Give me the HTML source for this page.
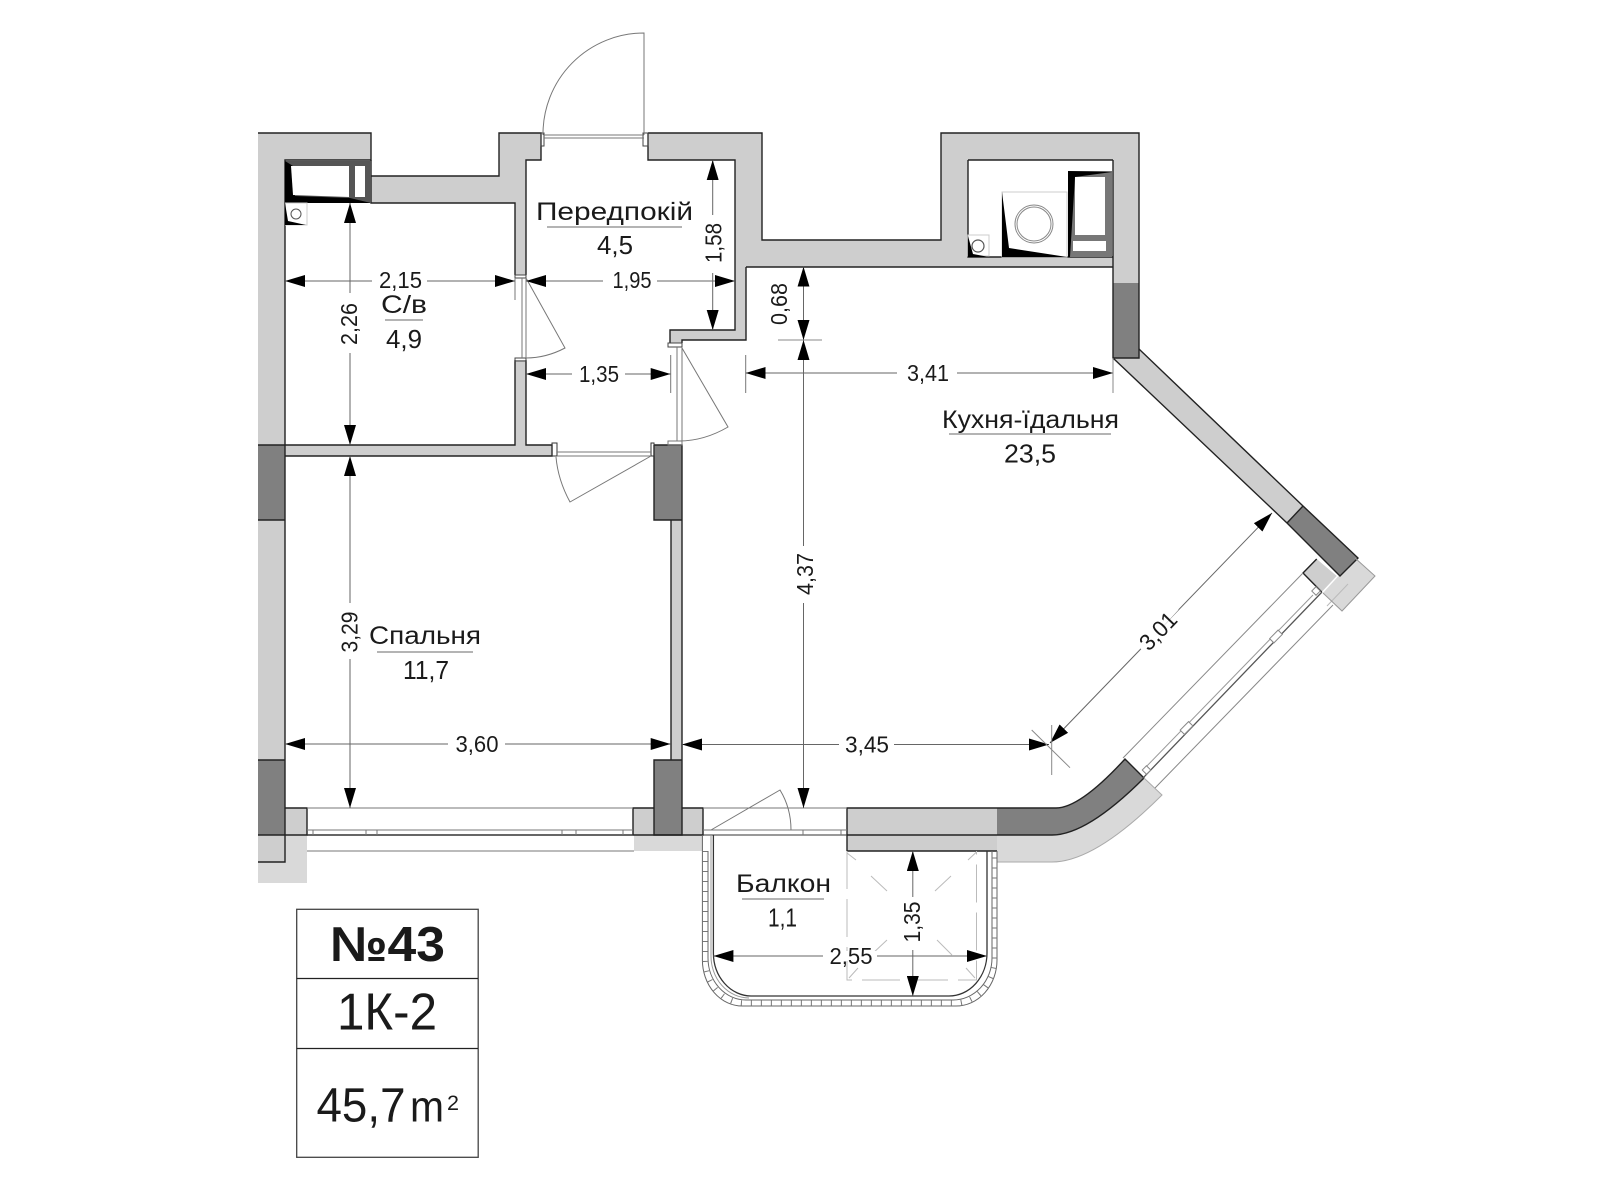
<!DOCTYPE html>
<html><head><meta charset="utf-8"><title>1К-2</title>
<style>
html,body{margin:0;padding:0;background:#fff}
svg{display:block}
text{font-family:"Liberation Sans",sans-serif;fill:#1a1a1a}
.d{font-size:23px;text-anchor:middle}
.l{font-size:25px;text-anchor:start}
.n{font-size:26px;text-anchor:start}
.dim{stroke:#666;stroke-width:1;fill:none;marker-start:url(#a);marker-end:url(#a)}
.tick{stroke:#888;stroke-width:1;fill:none}
.ul{stroke:#888;stroke-width:1.2}
.thin{stroke:#777;stroke-width:1;fill:none}
.edge{stroke:#222;stroke-width:1.4;fill:none}
</style></head><body>
<svg width="1600" height="1200" viewBox="0 0 1600 1200" xmlns="http://www.w3.org/2000/svg">
<defs>
<marker id="a" viewBox="0 0 20 12" refX="20" refY="6" markerUnits="userSpaceOnUse" markerWidth="20" markerHeight="12" orient="auto-start-reverse"><path d="M0,0 L20,6 L0,12 Z" fill="#000"/></marker>
</defs>
<rect width="1600" height="1200" fill="#fff"/>

<!-- light lower corners -->
<g fill="#d9d9d9">
<path d="M258,835 H307 V883 H258 Z"/>
<path d="M634,835 H703 V851 H634 Z"/>
<path d="M847,835 H997 V851 H847 Z" fill="#cecece"/>
<path d="M997,835 H1052 Q1087,835 1144,778 L1162,795 Q1095,862 1052,862 H997 Z"/>
<path d="M1355,558 L1375,576 L1342,611 L1323,593 Z"/>
</g>
<path d="M258,835 H285 V862 H258 Z" fill="#cecece"/>
<path d="M258,862 H285 V835" class="edge" stroke-width="1"/>
<path d="M1348,584 L1327,606" stroke="#bbb" fill="none"/>

<!-- light walls -->
<g fill="#cecece">
<path d="M258,133 H371 V160 H285 V445 H258 Z"/>
<path d="M258,520 H285 V760 H258 Z"/>
<path d="M371,176 H499 V133 H541 V160 H526 V275 H515 V203 H371 Z"/>
<path d="M515,360 H526 V445 H552 V456 H285 V445 H515 Z"/>
<path d="M648,133 H762 V240 H941 V133 H1139 V283 H1113 V160 H968 V257 H1113 V267 H746 V340 H682 V343 H670 V330 H735 V160 H648 Z"/>
<path d="M671,520 H682 V760 H671 Z"/>
<path d="M285,808 H307 V835 H285 Z"/>
<path d="M633,808 H654 V835 H633 Z"/>
<path d="M682,808 H703 V835 H682 Z"/>
<path d="M847,808 H997 V835 H847 Z"/>
<path d="M1139,349 L1303,506 L1287,523 L1113,358 Z"/>
<path d="M1316.7,559 L1336.7,576 L1321.7,592 L1303,573 Z"/>
</g>

<!-- dark walls -->
<g fill="#808080">
<path d="M258,445 H285 V520 H258 Z"/>
<path d="M258,760 H285 V835 H258 Z"/>
<path d="M654,445 H682 V520 H654 Z"/>
<path d="M654,760 H682 V835 H654 Z"/>
<path d="M1113,283 H1139 V358 H1113 Z"/>
<path d="M1303,506 L1358,558 L1340,576 L1287,523 Z"/>
<path d="M997,808 H1056 Q1080,808 1125,759 L1144,778 Q1087,835 1052,835 H997 Z"/>
</g>

<!-- wall edges -->
<g class="edge">
<path d="M258,133 H371 V160 H285 V835"/>
<path d="M371,160 V203 H515 V275 M371,176 H499 V133 H541 V160 H526 V275"/>
<path d="M515,360 V445 H285 M526,360 V445 H552 V456 H285"/>
<path d="M648,133 H762 V240 H941 V133 H1139 V358 H1113 V160 M648,133 V160 H735 V330 H670 V343 M746,267 V340 H682 V343"/>
<path d="M968,160 V257 H1113 M968,160 H1113 M746,267 H1113"/>
<path d="M654,445 V520 H682 V445 H654 M671,520 V760 M682,520 V760 M654,760 H682 V835 H654 Z"/>
<path d="M258,445 H285 M258,520 H285 M258,760 H285 M258,835 H307 V808 H285"/>
<path d="M633,835 V808 H654 M682,808 H703 V835 H633"/>
<path d="M847,851 V808 H997 M847,835 H997 M847,851 H997 M997,808 H1056 Q1080,808 1125,759 L1144,778 Q1087,835 1052,835 H997"/>
<path d="M1139,349 L1303,506 L1358,558 L1340,576 L1287,523 L1113,358"/>
<path d="M1303,506 L1287,523 M1316.7,559 L1303,573 L1321.7,592"/>
</g>
<path d="M997,862 H1052 Q1095,862 1162,795 L1144,778" stroke="#aaa" fill="none"/>
<path d="M1355,558 L1375,576 L1342,611 L1323,593" stroke="#999" fill="none"/>

<!-- WC appliance -->
<rect x="285" y="161" width="86" height="42" fill="#555"/>
<path d="M285,161 L293,166 L295,196 L350,198 L371,203 H285 Z" fill="#000"/>
<path d="M291,166 H349 V197 L293,195 Z" fill="#fff"/>
<rect x="355" y="166" width="10" height="31" fill="#fff"/>
<rect x="285.5" y="203" width="21.5" height="22" fill="#fff" stroke="#ccc"/>
<path d="M285,203 L288,221 L306,225 H285 Z" fill="#000"/>
<path d="M286.5,204 L290,220 L306,224 L306,204 Z" fill="#fff"/>
<circle cx="296" cy="214" r="5" fill="#fff" stroke="#555"/>

<!-- Kitchen appliances -->
<rect x="1068" y="171" width="44" height="86" fill="#777"/>
<path d="M1068,171 L1112,172 L1075,177 L1070,257 H1068 Z" fill="#000"/>
<rect x="1075" y="177" width="30" height="58" fill="#fff"/>
<rect x="1073" y="241" width="33" height="10" fill="#fff"/>
<rect x="1002" y="192" width="65" height="65" fill="#fff" stroke="#ccc"/>
<path d="M1002,192 L1009,248 L1067,257 H1002 Z" fill="#000"/>
<circle cx="1034" cy="224" r="19" fill="#fff" stroke="#888"/>
<circle cx="1034" cy="224" r="17" fill="#fff" stroke="#888"/>
<rect x="968" y="235" width="21" height="21" fill="#fff" stroke="#ccc"/>
<path d="M968,236 L973,254 L989,257 H968 Z" fill="#000"/>
<circle cx="978" cy="246" r="6" fill="#fff" stroke="#555" stroke-width="1.2"/>

<!-- Windows bedroom -->
<g class="thin">
<path d="M307,808 H633"/>
<path d="M307,830 H633"/>
<path d="M307,835 H633" stroke="#333" stroke-width="1.4"/>
<path d="M307,851 H634"/>
<path d="M313,830 V835 M366,830 V835 M377,830 V835 M562,830 V835 M576,830 V835 M623,830 V835"/>
</g>

<!-- Balcony door/window -->
<g class="thin">
<path d="M703,808 H847"/>
<path d="M703,830 H847"/>
<path d="M703,835 H847" stroke="#333"/>
<path d="M803,830 V835 M841,830 V835"/>
<path d="M711,830 L780,790 Q791,808 791,830"/>
</g>

<!-- Diagonal window -->
<g class="thin">
<path d="M1303,573 L1123,758" stroke="#888"/>
<path d="M1313,595 L1143,770" stroke="#999"/>
<path d="M1322,592 L1143,778" stroke="#555" stroke-width="1.3"/>
<path d="M1333,605 L1155,788" stroke="#888"/>
<rect x="-6" y="-3" width="12" height="6" transform="translate(1186.5,728) rotate(-45.5)" fill="#fff" stroke="#888"/>
<rect x="-6" y="-3" width="12" height="6" transform="translate(1276,636.5) rotate(-45.5)" fill="#fff" stroke="#888"/>
<rect x="-3" y="-3" width="6" height="6" transform="translate(1316,591) rotate(-45.5)" fill="#fff" stroke="#888"/>
<rect x="-3" y="-3" width="6" height="6" transform="translate(1146.5,770) rotate(-45.5)" fill="#fff" stroke="#888"/>
</g>

<!-- Balcony -->
<g fill="none">
<path d="M702.4,851 V960 A40,46 0 0 0 742.4,1006 H956 A41,46 0 0 0 997,960 V851" stroke="#666" stroke-width="1"/>
<path d="M708,851 V958 A38,42 0 0 0 746,1000 H953 A39,42 0 0 0 992,958 V851" stroke="#666" stroke-width="1"/>
<path d="M705,851 V959 A39,44 0 0 0 744,1003 H954.5 A40,44 0 0 0 994.5,959 V851" stroke="#777" stroke-width="5.5" stroke-dasharray="1 9"/>
<path d="M711,835 V955 A38,42 0 0 0 749,998" stroke="#999" stroke-width="1"/>
<path d="M713.4,835 V953 A38,43 0 0 0 751,996 H949 A38,43 0 0 0 987,953 V851" stroke="#333" stroke-width="1.3"/>
<path d="M702.4,835 V851 M997,851 V862" stroke="#666"/>
</g>
<g fill="none" stroke="#bbb" stroke-width="1">
<path d="M847,851 V980 H976.5 V851" stroke-dasharray="38 10"/>
<path d="M847,853 L856,860 M871,876 L887,891 M935,891 L951,876 M968,860 L976.5,852 M849,978 L858,968 M871,955 L887,940 M937,940 L952,955 M966,968 L975,978"/>
</g>

<!-- Doors -->
<g class="thin" fill="#fff">
<path d="M541,133 H544 V146 H541 Z M643,133 H648 V146 H643 Z" stroke="#444"/>
<path d="M544,135 H644 M544,138 H644"/>
<path d="M644,135 V33 A101,101 0 0 0 543,135"/>
<path d="M515,275 H526 V278 H515 Z M515,358 H526 V361 H515 Z" stroke="#444"/>
<path d="M522,278 V358 M526,278 V358"/>
<path d="M526,278 L565,348 Q546,358 526,358"/>
<path d="M515,278 V300"/>
<path d="M668,343 H682 V347 H668 Z" stroke="#444"/>
<path d="M677,347 V441 M682,347 V441"/>
<path d="M682,348 L728,427 Q704,441 679,441"/>
<rect x="668" y="441" width="14" height="4"/>
<path d="M670.7,355 V393 M745.7,355 V393"/>
<path d="M552,443 H557 V456 H552 Z M651,443 H654 V456 H651 Z" stroke="#333"/>
<path d="M557,452 H651 M557,456 H651"/>
<path d="M651,456 L570,502 Q558,480 556,457"/>
</g>

<!-- Dimension lines -->
<g>
<path class="dim" d="M285,281 H515"/>
<path class="dim" d="M526,281 H735"/>
<path class="dim" d="M526,374 H670.7"/>
<path class="dim" d="M350,203 V445"/>
<path class="dim" d="M350,456 V808"/>
<path class="dim" d="M712.7,160 V330"/>
<path class="dim" d="M745.7,373 H1113"/>
<path class="dim" d="M803.5,266.7 V340"/>
<path class="dim" d="M803.5,340 V808"/>
<path class="dim" d="M285,744 H670.7"/>
<path class="dim" d="M682,744.5 H1049"/>
<path class="dim" d="M1272,513 L1050,743"/>
<path class="dim" d="M713.4,956 H987"/>
<path class="dim" d="M912.8,851 V996"/>
<path class="tick" d="M778,340 H822 M1113,358 V393 M1051.7,725 V775 M1031.7,730 L1070,767.7"/>
</g>

<!-- Gaps in dimension lines -->
<g fill="#fff">
<rect x="372" y="276" width="55" height="10"/>
<rect x="603" y="276" width="54" height="10"/>
<rect x="572" y="369" width="53" height="10"/>
<rect x="448" y="739" width="57" height="10"/>
<rect x="897" y="368" width="60" height="10"/>
<rect x="839" y="739" width="55" height="10"/>
<rect x="823" y="951" width="54" height="10"/>
<rect x="345" y="293" width="10" height="60"/>
<rect x="345" y="603" width="10" height="56"/>
<rect x="708" y="215" width="10" height="58"/>
<rect x="799" y="546" width="10" height="57"/>
<rect x="908" y="897" width="10" height="53"/>
</g>
<line x1="1176.7" y1="608" x2="1140" y2="648" stroke="#fff" stroke-width="5"/>

<!-- Dimension text -->
<text class="d" x="400.5" y="288" textLength="43" lengthAdjust="spacingAndGlyphs">2,15</text>
<text class="d" x="632" y="288" textLength="39" lengthAdjust="spacingAndGlyphs">1,95</text>
<text class="d" x="599" y="382" textLength="40" lengthAdjust="spacingAndGlyphs">1,35</text>
<text class="d" x="477" y="752" textLength="43" lengthAdjust="spacingAndGlyphs">3,60</text>
<text class="d" x="928" y="381" textLength="42" lengthAdjust="spacingAndGlyphs">3,41</text>
<text class="d" x="867" y="752.5" textLength="44" lengthAdjust="spacingAndGlyphs">3,45</text>
<text class="d" x="851" y="964" textLength="43" lengthAdjust="spacingAndGlyphs">2,55</text>
<text class="d" transform="translate(357,324) rotate(-90)" textLength="42" lengthAdjust="spacingAndGlyphs">2,26</text>
<text class="d" transform="translate(357.5,632) rotate(-90)" textLength="41" lengthAdjust="spacingAndGlyphs">3,29</text>
<text class="d" transform="translate(721.5,243) rotate(-90)" textLength="40" lengthAdjust="spacingAndGlyphs">1,58</text>
<text class="d" transform="translate(787,304) rotate(-90)" textLength="42" lengthAdjust="spacingAndGlyphs">0,68</text>
<text class="d" transform="translate(813,574) rotate(-90)" textLength="42" lengthAdjust="spacingAndGlyphs">4,37</text>
<text class="d" transform="translate(920,922) rotate(-90)" textLength="41" lengthAdjust="spacingAndGlyphs">1,35</text>
<text class="d" transform="translate(1158,631) rotate(-46) translate(0,8)" textLength="43" lengthAdjust="spacingAndGlyphs">3,01</text>

<!-- Room labels -->
<text class="l" x="536" y="220" textLength="157" lengthAdjust="spacingAndGlyphs">Передпокій</text>
<line class="ul" x1="547" y1="227" x2="682" y2="227"/>
<text class="n" x="597" y="254" textLength="36" lengthAdjust="spacingAndGlyphs">4,5</text>

<text class="l" x="381" y="313" textLength="46" lengthAdjust="spacingAndGlyphs">С/в</text>
<line class="ul" x1="385" y1="320" x2="423" y2="320"/>
<text class="n" x="386" y="348" textLength="36" lengthAdjust="spacingAndGlyphs">4,9</text>

<text class="l" x="942" y="428" textLength="177" lengthAdjust="spacingAndGlyphs">Кухня-їдальня</text>
<line class="ul" x1="949" y1="434" x2="1111" y2="434"/>
<text class="n" x="1004" y="462.5" textLength="52" lengthAdjust="spacingAndGlyphs">23,5</text>

<text class="l" x="369" y="644" textLength="112" lengthAdjust="spacingAndGlyphs">Спальня</text>
<line class="ul" x1="377" y1="652" x2="473" y2="652"/>
<text class="n" x="403" y="679" textLength="46" lengthAdjust="spacingAndGlyphs">11,7</text>

<text class="l" x="736" y="892" textLength="95" lengthAdjust="spacingAndGlyphs">Балкон</text>
<line class="ul" x1="742" y1="899" x2="824" y2="899"/>
<text class="n" x="768" y="926.5" textLength="29" lengthAdjust="spacingAndGlyphs">1,1</text>

<!-- Info table -->
<rect x="296.7" y="909.3" width="181.5" height="248" fill="#fff" stroke="#444" stroke-width="1.3"/>
<line x1="296.7" y1="978.5" x2="478" y2="978.5" stroke="#222" stroke-width="1.3"/>
<line x1="296.7" y1="1048.5" x2="478" y2="1048.5" stroke="#222" stroke-width="1.3"/>
<text x="330" y="961" font-size="49" font-weight="700" textLength="115" lengthAdjust="spacingAndGlyphs" fill="#000">№43</text>
<text x="337" y="1029.5" font-size="52" textLength="100" lengthAdjust="spacingAndGlyphs">1К-2</text>
<text x="316.5" y="1121.5" font-size="48" textLength="89" lengthAdjust="spacingAndGlyphs">45,7</text>
<text x="410" y="1121.5" font-size="44" textLength="34" lengthAdjust="spacingAndGlyphs">m</text>
<text x="447" y="1110" font-size="21" textLength="12" lengthAdjust="spacingAndGlyphs">2</text>
</svg>
</body></html>
